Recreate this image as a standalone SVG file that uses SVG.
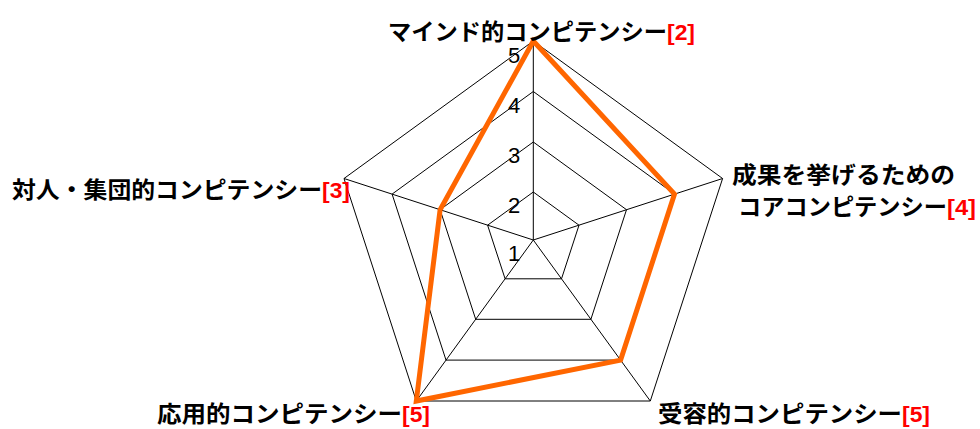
<svg xmlns="http://www.w3.org/2000/svg" width="980" height="429" viewBox="0 0 980 429">
  <style>
    .grid { fill: none; stroke: #000; stroke-width: 1; }
    .spoke { stroke: #000; stroke-width: 1; }
    .data { fill: none; stroke: #FF6600; stroke-width: 5; stroke-linejoin: miter; }
    .lbl { font-family: "Noto Sans CJK JP", "Noto Sans", sans-serif; font-weight: bold; font-size: 23px; fill: #000; }
    .num { font-family: "Liberation Sans", Arial, sans-serif; font-weight: bold; font-size: 22px; fill: #FF0000; }
    .tick { font-family: "Liberation Sans", Arial, sans-serif; font-size: 22px; fill: #000; text-anchor: middle; }
  </style>
  <rect width="980" height="429" fill="#fff"/>
  <g id="grid">
    <polygon class="grid" points="533.3,41 722.6,178.5 650.3,401 416.3,401 344,178.5"/>
    <polygon class="grid" points="533.3,91.5 674.5,194.1 620.6,360.1 446,360.1 392.1,194.1"/>
    <polygon class="grid" points="533.3,142 626.5,209.7 590.9,319.3 475.7,319.3 440.1,209.7"/>
    <polygon class="grid" points="533.3,192 579,225.2 561.5,278.8 505.1,278.8 487.6,225.2"/>
  </g>
  <g id="connectors">
    <line class="spoke" x1="533.3" y1="240" x2="533.3" y2="41"/>
    <line class="spoke" x1="533.3" y1="240" x2="722.6" y2="178.5"/>
    <line class="spoke" x1="533.3" y1="240" x2="650.3" y2="401"/>
    <line class="spoke" x1="533.3" y1="240" x2="416.3" y2="401"/>
    <line class="spoke" x1="533.3" y1="240" x2="344" y2="178.5"/>
  </g>
  <g id="ticks">
    <text class="tick" x="514" y="63">5</text>
    <text class="tick" x="514" y="113">4</text>
    <text class="tick" x="514" y="163">3</text>
    <text class="tick" x="514" y="213">2</text>
    <text class="tick" x="514" y="261">1</text>
  </g>
  <g id="series">
    <polygon class="data" points="533.3,41 674.5,194.1 620.6,360.1 416.3,401 440.1,209.7"/>
  </g>
  <g id="node-mind">
    <text class="lbl" x="388" y="40" textLength="279" lengthAdjust="spacingAndGlyphs">マインド的コンピテンシー</text>
    <text class="num" x="667" y="40" textLength="28" lengthAdjust="spacingAndGlyphs">[2]</text>
  </g>
  <g id="node-core">
    <text class="lbl" x="732" y="183" textLength="223" lengthAdjust="spacingAndGlyphs">成果を挙げるための</text>
    <text class="lbl" x="738" y="215" textLength="209" lengthAdjust="spacingAndGlyphs">コアコンピテンシー</text>
    <text class="num" x="947" y="215" textLength="29" lengthAdjust="spacingAndGlyphs">[4]</text>
  </g>
  <g id="node-receptive">
    <text class="lbl" x="658" y="422" textLength="244" lengthAdjust="spacingAndGlyphs">受容的コンピテンシー</text>
    <text class="num" x="902" y="422" textLength="28" lengthAdjust="spacingAndGlyphs">[5]</text>
  </g>
  <g id="node-applied">
    <text class="lbl" x="157" y="422" textLength="245" lengthAdjust="spacingAndGlyphs">応用的コンピテンシー</text>
    <text class="num" x="402" y="422" textLength="28" lengthAdjust="spacingAndGlyphs">[5]</text>
  </g>
  <g id="node-interpersonal">
    <text class="lbl" x="12" y="198" textLength="310" lengthAdjust="spacingAndGlyphs">対人・集団的コンピテンシー</text>
    <text class="num" x="322" y="198" textLength="28" lengthAdjust="spacingAndGlyphs">[3]</text>
  </g>
</svg>
